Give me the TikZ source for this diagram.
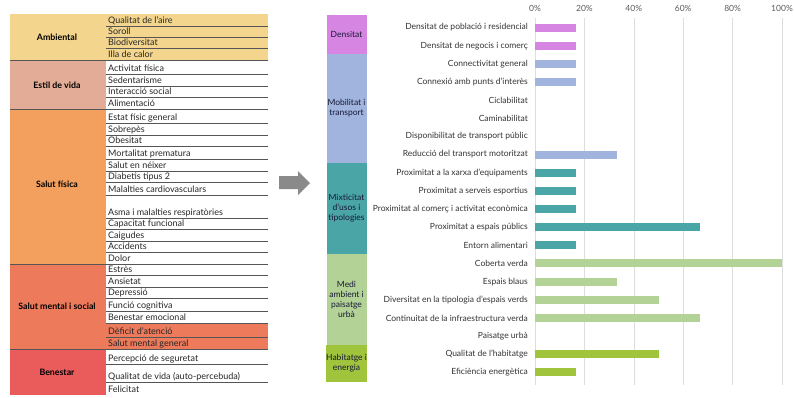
\documentclass[tikz,border=0pt]{standalone}
\usepackage{fontspec}
\setmainfont{Lato}
\definecolor{camb}{HTML}{F4D58D}
\definecolor{cest}{HTML}{E2AC96}
\definecolor{csf}{HTML}{F3A05F}
\definecolor{csm}{HTML}{EE7A5C}
\definecolor{cben}{HTML}{EA5C5C}
\definecolor{cden}{HTML}{D686E2}
\definecolor{cmob}{HTML}{A0B4DE}
\definecolor{cmix}{HTML}{4AA6A6}
\definecolor{cmed}{HTML}{B2D296}
\definecolor{chab}{HTML}{A0C43C}
\definecolor{rowline}{HTML}{555555}
\definecolor{txt}{HTML}{333333}
\definecolor{grid}{HTML}{DDDDDD}
\definecolor{arrowgray}{HTML}{8A8A8A}
\tikzset{
  base/.style={font=\fontsize{8.5}{10}\selectfont, text=txt, inner sep=0pt},
  catlab/.style={base, font=\fontsize{8.8}{10}\selectfont\bfseries, text=black},
  itemlab/.style={base, font=\fontsize{9}{10}\selectfont, text=black!85, anchor=base west},
  barlab/.style={base, anchor=east, text=txt},
  axlab/.style={base, text=txt!80},
  catbox/.style={base, minimum width=40pt, align=center, text=txt!80!blue!60!black},
  sep/.style={draw=rowline, line width=0.7pt},
  gridline/.style={draw=grid, line width=0.6pt}
}
\begin{document}
\begin{tikzpicture}[x=1pt,y=-1pt]
\useasboundingbox (0,0) rectangle (794,397);
% ---------------- left table ----------------
\fill[camb] (10,14) rectangle (268,60);
\fill[cest] (10,60) rectangle (106,109);
\fill[csf] (10,109) rectangle (106,264);
\fill[csm] (10,264) rectangle (106,349);
\fill[csm] (106,323) rectangle (268,349);
\fill[cben] (10,349) rectangle (106,395);
\node[catlab] (ambiental) at (57,37) {Ambiental};
\node[catlab] (estil) at (57,85) {Estil de vida};
\node[catlab] (salutfisica) at (57,184) {Salut física};
\node[catlab] (salutmental) at (57,306) {Salut mental i social};
\node[catlab] (benestar) at (57,372) {Benestar};
\foreach \b/\t [count=\i] in {26/Qualitat de l'aire, 37/Soroll, 48/Biodiversitat, 60/Illa de calor,
  74/Activitat física, 86/Sedentarisme, 97/Interacció social, 109/Alimentació,
  123/Estat físic general, 135/Sobrepès, 146/Obesitat, 159/Mortalitat prematura,
  171/Salut en néixer, 182/Diabetis tipus 2, 195/Malalties cardiovasculars,
  218/Asma i malalties respiratòries, 229/Capacitat funcional, 241/Caigudes,
  252/Accidents, 264/Dolor,
  275/Estrès, 287/Ansietat, 298/Depressió, 311/Funció cognitiva, 323/Benestar emocional,
  337/Dèficit d'atenció, 349/Salut mental general,
  364/Percepció de seguretat, 382/Qualitat de vida (auto-percebuda), 395/Felicitat}{
  \node[itemlab] (item\i) at (108,\b-3) {\t};
}
\foreach \b in {26,37,48,74,86,97,123,135,146,159,171,182,195,218,229,241,252,275,287,298,311,323,337,364,382}{
  \draw[sep] (106,\b) -- (268,\b);
}
\foreach \b in {60,109,264,349}{
  \draw[sep] (10,\b) -- (268,\b);
}
% ---------------- arrow ----------------
\fill[arrowgray] (279,176) -- (298,176) -- (298,171) -- (310,183) -- (298,195) -- (298,189) -- (279,189) -- cycle;
% ---------------- right chart ----------------
\foreach \k [count=\j from 0] in {0,20,40,60,80,100}{
  \draw[gridline] (535+49.4*\j,18) -- (535+49.4*\j,385);
  \node[axlab] (ax\k) at (535+49.4*\j,8) {\k\%};
}
\node[catbox, fill=cden, minimum height=39pt] (densitat) at (346.5,34.5) {Densitat};
\node[catbox, fill=cmob, minimum height=109pt] (mobilitat) at (346.5,108.5) {Mobilitat i\\transport};
\node[catbox, fill=cmix, minimum height=91pt] (mixticitat) at (346.5,208.5) {Mixticitat\\d'usos i\\tipologies};
\node[catbox, fill=cmed, minimum height=91pt] (medi) at (346.5,299.5) {Medi\\ambient i\\paisatge\\urbà};
\node[catbox, fill=chab, minimum height=37pt] (habitatge) at (346.5,363.5) {Habitatge i\\energia};
\foreach \t/\v/\c [count=\i from 0] in {
  Densitat de població i residencial/16.67/cden,
  Densitat de negocis i comerç/16.67/cden,
  Connectivitat general/16.67/cmob,
  Connexió amb punts d'interès/16.67/cmob,
  Ciclabilitat/0/cmob,
  Caminabilitat/0/cmob,
  Disponibilitat de transport públic/0/cmob,
  Reducció del transport motoritzat/33.33/cmob,
  Proximitat a la xarxa d'equipaments/16.67/cmix,
  Proximitat a serveis esportius/16.67/cmix,
  Proximitat al comerç i activitat econòmica/16.67/cmix,
  Proximitat a espais públics/66.67/cmix,
  Entorn alimentari/16.67/cmix,
  Coberta verda/100/cmed,
  Espais blaus/33.33/cmed,
  Diversitat en la tipologia d'espais verds/50/cmed,
  Continuitat de la infraestructura verda/66.67/cmed,
  Paisatge urbà/0/cmed,
  Qualitat de l'habitatge/50/chab,
  Eficiència energètica/16.67/chab}{
  \node[barlab] (lab\i) at (528,27.5+18.15*\i) {\t};
  \ifdim \v pt>0pt
    \fill[\c] (535,27.5+18.15*\i-4) rectangle (535+2.47*\v,27.5+18.15*\i+4);
  \fi
}
\end{tikzpicture}
\end{document}
